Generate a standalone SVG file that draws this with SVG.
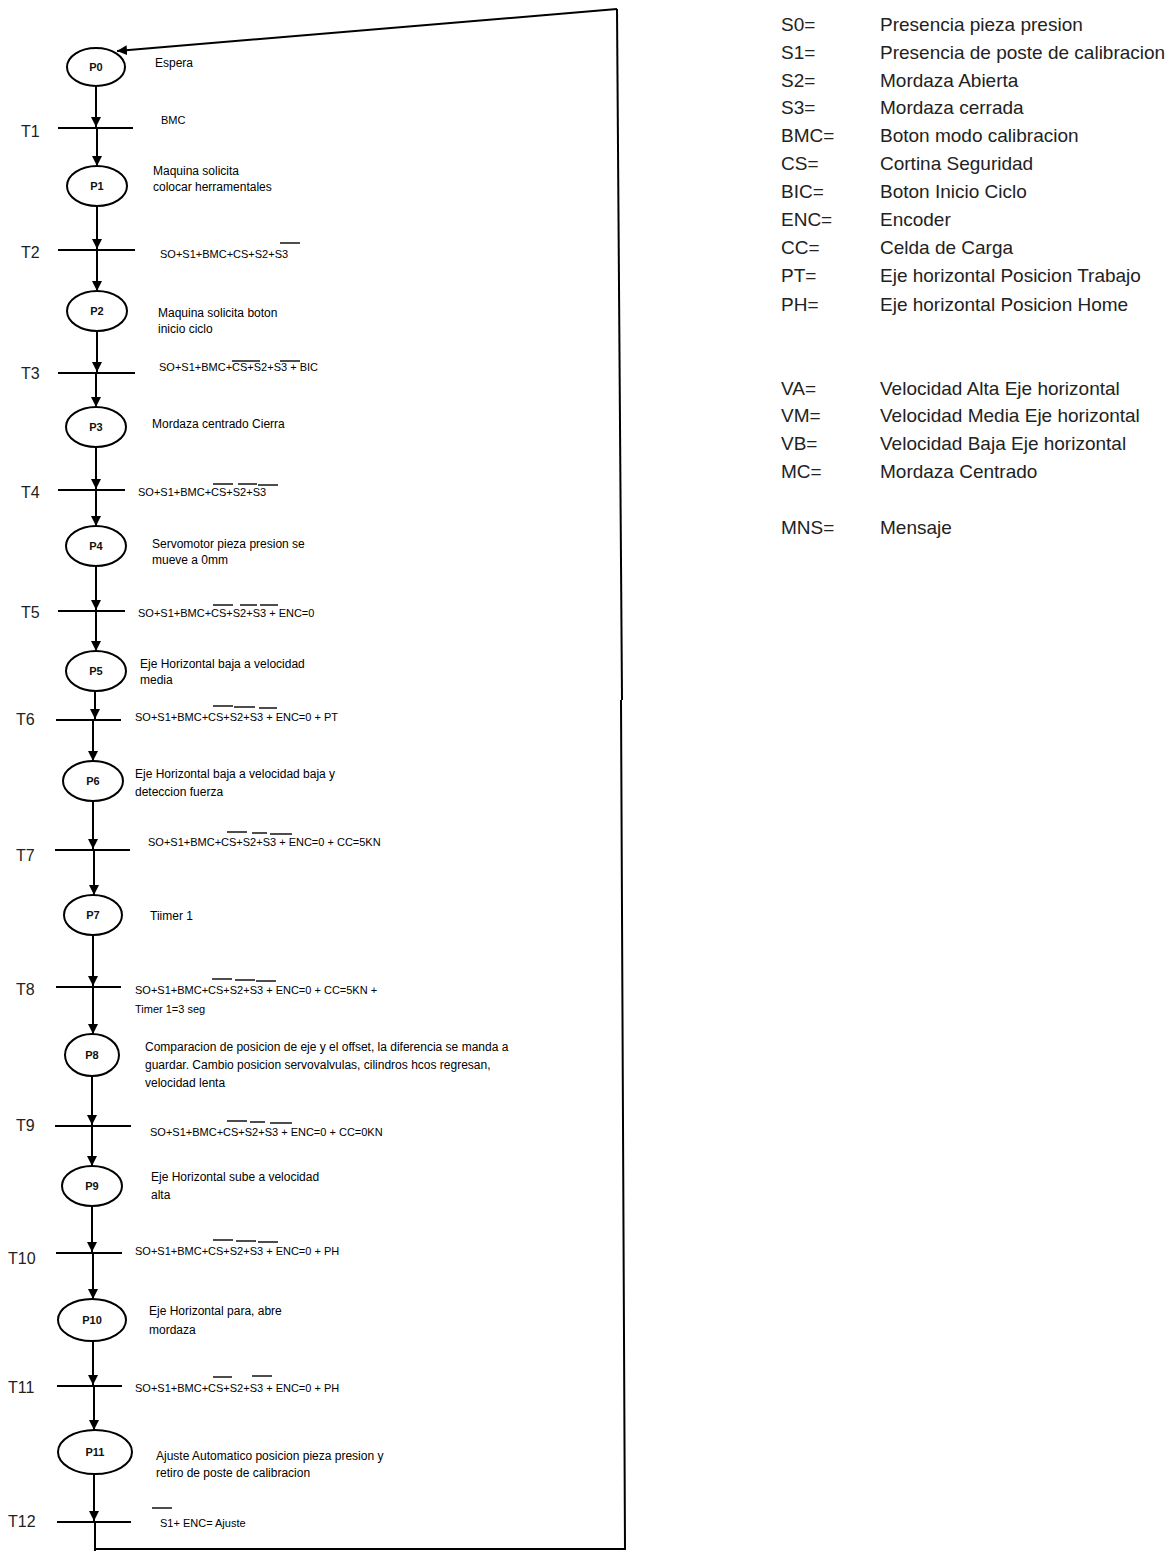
<svg xmlns="http://www.w3.org/2000/svg" width="1174" height="1551" viewBox="0 0 1174 1551">
<style>
.pl{fill:#fff;stroke:#000;stroke-width:2}
.pt{font-family:"Liberation Sans",Arial,sans-serif;font-size:11px;font-weight:bold;fill:#111;text-anchor:middle}
.d{font-family:"Liberation Sans",Arial,sans-serif;font-size:12px;fill:#000}
.k{font-family:"Liberation Sans",Arial,sans-serif;font-size:11px;fill:#000}
.tl{font-family:"Liberation Sans",Arial,sans-serif;font-size:16px;fill:#222}
.bar{stroke:#000;stroke-width:2.2}
.ov{stroke:#000;stroke-width:1.4}
.c{stroke:#000;stroke-width:2;fill:none}
.lg{font-family:"Liberation Sans",Arial,sans-serif;font-size:19px;fill:#222}
</style>
<defs>
<marker id="ah" viewBox="0 0 10 10" refX="10" refY="5" markerWidth="10" markerHeight="11" markerUnits="userSpaceOnUse" orient="auto">
<path d="M0,0 L10,5 L0,10 z" fill="#000"/>
</marker>
</defs>
<rect width="1174" height="1551" fill="#fff"/>

<g id="connectors">
<line class="c" x1="96" y1="86" x2="96" y2="127" marker-end="url(#ah)"/>
<line class="c" x1="97" y1="129" x2="97" y2="166" marker-end="url(#ah)"/>
<line class="c" x1="97" y1="206" x2="97" y2="249" marker-end="url(#ah)"/>
<line class="c" x1="97" y1="251" x2="97" y2="291" marker-end="url(#ah)"/>
<line class="c" x1="97" y1="331" x2="97" y2="372" marker-end="url(#ah)"/>
<line class="c" x1="96" y1="374" x2="96" y2="407" marker-end="url(#ah)"/>
<line class="c" x1="96" y1="447" x2="96" y2="489" marker-end="url(#ah)"/>
<line class="c" x1="96" y1="491" x2="96" y2="526" marker-end="url(#ah)"/>
<line class="c" x1="96" y1="566" x2="96" y2="610" marker-end="url(#ah)"/>
<line class="c" x1="96" y1="612" x2="96" y2="651" marker-end="url(#ah)"/>
<line class="c" x1="95" y1="691" x2="95" y2="719" marker-end="url(#ah)"/>
<line class="c" x1="93" y1="721" x2="93" y2="761" marker-end="url(#ah)"/>
<line class="c" x1="93" y1="801" x2="93" y2="849" marker-end="url(#ah)"/>
<line class="c" x1="94" y1="851" x2="94" y2="895" marker-end="url(#ah)"/>
<line class="c" x1="93" y1="935" x2="93" y2="986" marker-end="url(#ah)"/>
<line class="c" x1="93" y1="988" x2="93" y2="1034" marker-end="url(#ah)"/>
<line class="c" x1="92" y1="1076" x2="92" y2="1125" marker-end="url(#ah)"/>
<line class="c" x1="92" y1="1127" x2="92" y2="1166" marker-end="url(#ah)"/>
<line class="c" x1="92" y1="1206" x2="92" y2="1252" marker-end="url(#ah)"/>
<line class="c" x1="93" y1="1254" x2="93" y2="1299" marker-end="url(#ah)"/>
<line class="c" x1="93" y1="1341" x2="93" y2="1385" marker-end="url(#ah)"/>
<line class="c" x1="94" y1="1387" x2="94" y2="1430" marker-end="url(#ah)"/>
<line class="c" x1="94" y1="1474" x2="94" y2="1521" marker-end="url(#ah)"/>
<line class="c" x1="95" y1="1523" x2="95" y2="1551"/>
<polyline class="c" points="95,1549 625,1549 621,700"/>
<polyline class="c" points="622,700 617,9"/>
<line class="c" x1="617" y1="9" x2="117" y2="51" marker-end="url(#ah)"/>
</g>

<g id="P0"><ellipse class="pl" cx="96" cy="67" rx="29" ry="19"/><text class="pt" x="96" y="71">P0</text><text class="d" x="155" y="67">Espera</text></g>
<g id="P1"><ellipse class="pl" cx="97" cy="186" rx="30" ry="20"/><text class="pt" x="97" y="190">P1</text><text class="d" x="153" y="175">Maquina solicita</text><text class="d" x="153" y="191">colocar herramentales</text></g>
<g id="P2"><ellipse class="pl" cx="97" cy="311" rx="30" ry="20"/><text class="pt" x="97" y="315">P2</text><text class="d" x="158" y="317">Maquina solicita boton</text><text class="d" x="158" y="333">inicio ciclo</text></g>
<g id="P3"><ellipse class="pl" cx="96" cy="427" rx="30" ry="20"/><text class="pt" x="96" y="431">P3</text><text class="d" x="152" y="428">Mordaza centrado Cierra</text></g>
<g id="P4"><ellipse class="pl" cx="96" cy="546" rx="30" ry="20"/><text class="pt" x="96" y="550">P4</text><text class="d" x="152" y="548">Servomotor pieza presion se</text><text class="d" x="152" y="564">mueve a 0mm</text></g>
<g id="P5"><ellipse class="pl" cx="96" cy="671" rx="30" ry="20"/><text class="pt" x="96" y="675">P5</text><text class="d" x="140" y="668">Eje Horizontal baja a velocidad</text><text class="d" x="140" y="684">media</text></g>
<g id="P6"><ellipse class="pl" cx="93" cy="781" rx="30" ry="20"/><text class="pt" x="93" y="785">P6</text><text class="d" x="135" y="778">Eje Horizontal baja a velocidad baja y</text><text class="d" x="135" y="796">deteccion fuerza</text></g>
<g id="P7"><ellipse class="pl" cx="93" cy="915" rx="29" ry="20"/><text class="pt" x="93" y="919">P7</text><text class="d" x="150" y="920">Tiimer 1</text></g>
<g id="P8"><ellipse class="pl" cx="92" cy="1055" rx="27" ry="21"/><text class="pt" x="92" y="1059">P8</text><text class="d" x="145" y="1051">Comparacion de posicion de eje y el offset, la diferencia se manda a</text><text class="d" x="145" y="1069">guardar. Cambio posicion servovalvulas, cilindros hcos regresan,</text><text class="d" x="145" y="1087">velocidad lenta</text></g>
<g id="P9"><ellipse class="pl" cx="92" cy="1186" rx="30" ry="20"/><text class="pt" x="92" y="1190">P9</text><text class="d" x="151" y="1181">Eje Horizontal sube a velocidad</text><text class="d" x="151" y="1199">alta</text></g>
<g id="P10"><ellipse class="pl" cx="92" cy="1320" rx="34" ry="21"/><text class="pt" x="92" y="1324">P10</text><text class="d" x="149" y="1315">Eje Horizontal para, abre</text><text class="d" x="149" y="1334">mordaza</text></g>
<g id="P11"><ellipse class="pl" cx="95" cy="1452" rx="37" ry="22"/><text class="pt" x="95" y="1456">P11</text><text class="d" x="156" y="1460">Ajuste Automatico posicion pieza presion y</text><text class="d" x="156" y="1477">retiro de poste de calibracion</text></g>

<g id="T1"><line class="bar" x1="58" y1="128" x2="133" y2="128"/><text class="tl" x="21" y="137">T1</text><text class="k" x="161" y="124">BMC</text></g>
<g id="T2"><line class="bar" x1="58" y1="250" x2="135" y2="250"/><text class="tl" x="21" y="258">T2</text><text class="k" x="160" y="258">SO+S1+BMC+CS+S2+S3</text><line class="ov" x1="280" y1="243" x2="300" y2="243"/></g>
<g id="T3"><line class="bar" x1="58" y1="373" x2="135" y2="373"/><text class="tl" x="21" y="379">T3</text><text class="k" x="159" y="371">SO+S1+BMC+CS+S2+S3  + BIC</text><line class="ov" x1="232" y1="361" x2="260" y2="361"/><line class="ov" x1="280" y1="361" x2="300" y2="361"/></g>
<g id="T4"><line class="bar" x1="58" y1="490" x2="125" y2="490"/><text class="tl" x="21" y="498">T4</text><text class="k" x="138" y="496">SO+S1+BMC+CS+S2+S3</text><line class="ov" x1="213" y1="484" x2="233" y2="484"/><line class="ov" x1="238" y1="484" x2="257" y2="484"/><line class="ov" x1="258" y1="485" x2="278" y2="485"/></g>
<g id="T5"><line class="bar" x1="58" y1="611" x2="125" y2="611"/><text class="tl" x="21" y="618">T5</text><text class="k" x="138" y="617">SO+S1+BMC+CS+S2+S3  + ENC=0</text><line class="ov" x1="213" y1="605" x2="233" y2="605"/><line class="ov" x1="240" y1="605" x2="257" y2="605"/><line class="ov" x1="260" y1="605" x2="278" y2="605"/></g>
<g id="T6"><line class="bar" x1="56" y1="720" x2="121" y2="720"/><text class="tl" x="16" y="725">T6</text><text class="k" x="135" y="721">SO+S1+BMC+CS+S2+S3  + ENC=0 + PT</text><line class="ov" x1="213" y1="706" x2="233" y2="706"/><line class="ov" x1="234" y1="707" x2="255" y2="707"/><line class="ov" x1="259" y1="708" x2="277" y2="708"/></g>
<g id="T7"><line class="bar" x1="55" y1="850" x2="130" y2="850"/><text class="tl" x="16" y="861">T7</text><text class="k" x="148" y="846">SO+S1+BMC+CS+S2+S3  + ENC=0 + CC=5KN</text><line class="ov" x1="227" y1="832" x2="247" y2="832"/><line class="ov" x1="252" y1="833" x2="267" y2="833"/><line class="ov" x1="270" y1="834" x2="292" y2="834"/></g>
<g id="T8"><line class="bar" x1="56" y1="987" x2="121" y2="987"/><text class="tl" x="16" y="995">T8</text><text class="k" x="135" y="994">SO+S1+BMC+CS+S2+S3  + ENC=0 + CC=5KN +</text><text class="k" x="135" y="1013">Timer 1=3 seg</text><line class="ov" x1="212" y1="979" x2="232" y2="979"/><line class="ov" x1="235" y1="980" x2="255" y2="980"/><line class="ov" x1="256" y1="981" x2="276" y2="981"/></g>
<g id="T9"><line class="bar" x1="55" y1="1126" x2="131" y2="1126"/><text class="tl" x="16" y="1131">T9</text><text class="k" x="150" y="1136">SO+S1+BMC+CS+S2+S3  + ENC=0 + CC=0KN</text><line class="ov" x1="227" y1="1121" x2="247" y2="1121"/><line class="ov" x1="250" y1="1122" x2="265" y2="1122"/><line class="ov" x1="270" y1="1123" x2="292" y2="1123"/></g>
<g id="T10"><line class="bar" x1="56" y1="1253" x2="122" y2="1253"/><text class="tl" x="8" y="1264">T10</text><text class="k" x="135" y="1255">SO+S1+BMC+CS+S2+S3  + ENC=0 + PH</text><line class="ov" x1="213" y1="1240" x2="233" y2="1240"/><line class="ov" x1="236" y1="1241" x2="256" y2="1241"/><line class="ov" x1="258" y1="1242" x2="278" y2="1242"/></g>
<g id="T11"><line class="bar" x1="57" y1="1386" x2="122" y2="1386"/><text class="tl" x="8" y="1393">T11</text><text class="k" x="135" y="1392">SO+S1+BMC+CS+S2+S3  + ENC=0 + PH</text><line class="ov" x1="213" y1="1377" x2="232" y2="1377"/><line class="ov" x1="252" y1="1376" x2="272" y2="1376"/></g>
<g id="T12"><line class="bar" x1="57" y1="1522" x2="131" y2="1522"/><text class="tl" x="8" y="1527">T12</text><text class="k" x="160" y="1527">S1+ ENC= Ajuste</text><line class="ov" x1="152" y1="1508" x2="172" y2="1508"/></g>

<g id="legend">
<text class="lg" x="781" y="31">S0=</text><text class="lg" x="880" y="31">Presencia pieza presion</text>
<text class="lg" x="781" y="59">S1=</text><text class="lg" x="880" y="59">Presencia de poste de calibracion</text>
<text class="lg" x="781" y="87">S2=</text><text class="lg" x="880" y="87">Mordaza Abierta</text>
<text class="lg" x="781" y="114">S3=</text><text class="lg" x="880" y="114">Mordaza cerrada</text>
<text class="lg" x="781" y="142">BMC=</text><text class="lg" x="880" y="142">Boton modo calibracion</text>
<text class="lg" x="781" y="170">CS=</text><text class="lg" x="880" y="170">Cortina Seguridad</text>
<text class="lg" x="781" y="198">BIC=</text><text class="lg" x="880" y="198">Boton Inicio Ciclo</text>
<text class="lg" x="781" y="226">ENC=</text><text class="lg" x="880" y="226">Encoder</text>
<text class="lg" x="781" y="254">CC=</text><text class="lg" x="880" y="254">Celda de Carga</text>
<text class="lg" x="781" y="282">PT=</text><text class="lg" x="880" y="282">Eje horizontal Posicion Trabajo</text>
<text class="lg" x="781" y="311">PH=</text><text class="lg" x="880" y="311">Eje horizontal Posicion Home</text>
<text class="lg" x="781" y="395">VA=</text><text class="lg" x="880" y="395">Velocidad Alta Eje horizontal</text>
<text class="lg" x="781" y="422">VM=</text><text class="lg" x="880" y="422">Velocidad Media Eje horizontal</text>
<text class="lg" x="781" y="450">VB=</text><text class="lg" x="880" y="450">Velocidad Baja Eje horizontal</text>
<text class="lg" x="781" y="478">MC=</text><text class="lg" x="880" y="478">Mordaza Centrado</text>
<text class="lg" x="781" y="534">MNS=</text><text class="lg" x="880" y="534">Mensaje</text>
</g>
</svg>
